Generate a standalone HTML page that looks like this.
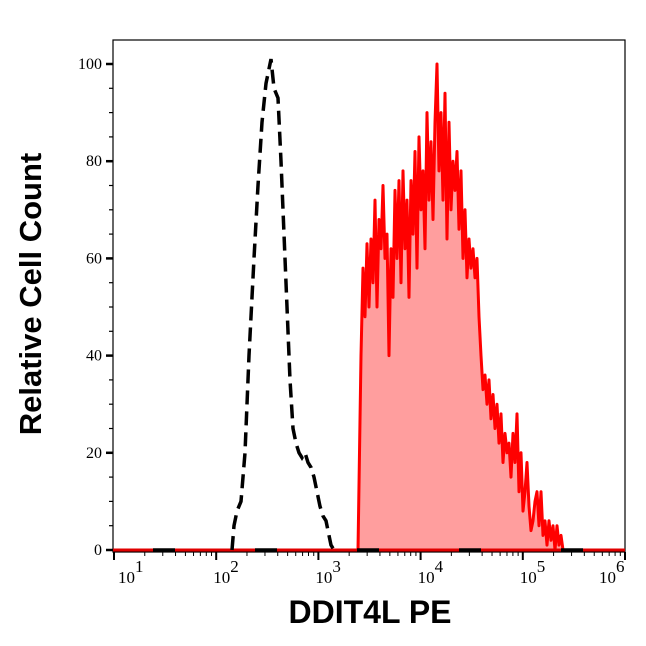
<!DOCTYPE html>
<html><head><meta charset="utf-8"><style>
body{margin:0;background:#fff}
svg text{font-family:"Liberation Serif",serif}
</style></head><body>
<svg id="s" width="646" height="641" xmlns="http://www.w3.org/2000/svg">
<rect x="113" y="40" width="512" height="512" fill="none" stroke="#000" stroke-width="1.2"/>
<g id="ticks" stroke="#000"></g>
<g id="labels" font-size="15" fill="#000"></g>
<path id="red" fill="#ff9e9e" stroke="#ff0000" stroke-width="3" stroke-linejoin="round"/>
<line x1="113" y1="550" x2="625" y2="550" stroke="#e00000" stroke-width="3"/>
<path id="blk" fill="none" stroke="#000" stroke-width="3.5" stroke-dasharray="14,7"/>
<line x1="113" y1="550" x2="625" y2="550" stroke="#000" stroke-width="3.5" stroke-dasharray="0,40,22,40"/>
<text x="0" y="0" transform="translate(41,294) rotate(-90)" text-anchor="middle" font-size="31" font-weight="bold" style="font-family:'Liberation Sans',sans-serif">Relative Cell Count</text>
<text x="370" y="623" text-anchor="middle" font-size="32" font-weight="bold" style="font-family:'Liberation Sans',sans-serif">DDIT4L PE</text>
</svg>
<script>
var Y=function(v){return 550-v*4.86};
var ns="http://www.w3.org/2000/svg";
function el(p,t,a,txt){var e=document.createElementNS(ns,t);for(var k in a)e.setAttribute(k,a[k]);if(txt)e.textContent=txt;document.getElementById(p).appendChild(e);return e;}
for(var v=0;v<=100;v+=5){var maj=v%20==0;el("ticks","line",{x1:maj?106:109,x2:113,y1:Y(v),y2:Y(v),"stroke-width":maj?2.5:1.2});}
for(var v=0;v<=100;v+=20){el("labels","text",{x:102,y:Y(v)+5,"text-anchor":"end","font-size":"16"},String(v));}
var d0=114,dw=102.2;
for(var d=1;d<=6;d++){var x=d0+(d-1)*dw;el("ticks","line",{x1:x,x2:x,y1:552,y2:560,"stroke-width":2});
 var lx=x-3; if(d==1)lx=x+4; if(d==6)lx=x-26;
 el("labels","text",{x:lx,y:583,"font-size":"17"},"10");el("labels","text",{x:lx+17,y:572,"font-size":"17"},String(d));
 if(d<6)for(var m=2;m<=9;m++){var xm=x+Math.log10(m)*dw;el("ticks","line",{x1:xm,x2:xm,y1:552,y2:556,"stroke-width":1});}}
var r=[[358,0],[361,40],[363,58],[365,48],[367,63],[369,50],[371,64],[373,55],[375,72],[377,50],[379,68],[381,62],[383,75],[385,60],[387,65],[389,40],[391,62],[393,52],[395,74],[397,60],[399,76],[401,55],[403,78],[405,62],[407,72],[409,52],[411,76],[413,65],[415,82],[417,58],[419,85],[421,70],[423,78],[425,62],[427,90],[429,72],[431,84],[433,68],[435,88],[437,100],[439,78],[441,90],[443,72],[445,94],[447,64],[449,88],[451,70],[453,80],[455,74],[457,82],[459,66],[461,78],[463,60],[465,70],[467,56],[469,64],[471,58],[473,62],[475,56],[477,60],[479,48],[481,40],[483,33],[485,36],[487,30],[489,35],[491,27],[493,32],[495,25],[497,30],[499,22],[501,28],[503,18],[505,24],[507,20],[509,22],[511,15],[513,24],[515,18],[517,28],[519,12],[521,20],[523,8],[525,12],[527,18],[529,9],[531,4],[533,6],[535,10],[537,12],[539,5],[541,12],[543,3],[545,6],[547,1],[549,6],[551,2],[553,5],[555,0],[557,5],[559,1],[561,3],[563,0],[575,0]];
document.getElementById("red").setAttribute("d","M"+r.map(function(a){return a[0]+","+Y(a[1]).toFixed(1)}).join(" L")+" Z");
var b=[[232,0],[234,5],[237,8],[241,10],[245,20],[249,40],[254,60],[258,75],[262,88],[266,96],[269,99],[271,101],[274,95],[278,93],[281,80],[284,65],[287,50],[290,35],[293,25],[296,22],[299,20],[302,19],[305,20],[308,18],[311,17],[314,15],[317,12],[320,9],[323,7],[326,6],[328,4],[331,1],[334,0]];
document.getElementById("blk").setAttribute("d","M"+b.map(function(a){return a[0]+","+Y(a[1]).toFixed(1)}).join(" L"));
</script>
</body></html>
